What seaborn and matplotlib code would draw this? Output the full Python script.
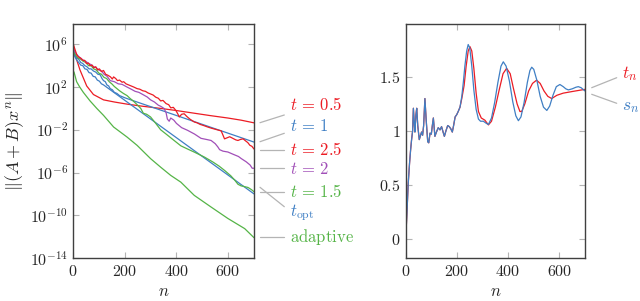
import numpy as np
import pandas as pd
import matplotlib
matplotlib.use('Agg')
import matplotlib.pyplot as plt
import seaborn as sns
from matplotlib.lines import Line2D
from matplotlib.ticker import NullLocator

# ---- left panel: log10 of ||(A+B)x^n|| ----
n_t05 = [0, 8, 27, 53, 79, 118, 160, 209, 270, 339, 400, 469, 530, 599, 650, 700]
e_t05 = [6.0, 5.0, 3.6, 2.1, 1.3, 0.8, 0.6, 0.4, 0.2, 0.0, -0.2, -0.45, -0.67, -0.9, -1.1, -1.35]

n_t25 = [0, 8, 15, 22, 30, 38, 45, 52, 60, 66, 74, 80, 88, 95, 102, 110, 118, 126, 135, 145, 152,
         157, 165, 172, 180, 190, 196, 205, 215, 225, 235, 248, 258, 270, 280, 290, 300, 310, 320,
         330, 339, 348, 360, 370, 378, 388, 398, 405, 411, 420, 430, 440, 452, 469, 480, 492, 505,
         521, 535, 550, 565, 573, 580, 586, 596, 606, 618, 630, 638, 648, 658, 668, 676, 684, 692, 700]
e_t25 = [6.1, 5.5, 5.0, 4.8, 4.7, 4.5, 4.5, 4.2, 4.25, 4.0, 4.05, 3.8, 3.9, 3.6, 3.7, 3.45, 3.55,
         3.2, 3.1, 2.95, 2.75, 2.95, 2.8, 2.6, 2.65, 2.45, 2.5, 2.3, 2.2, 2.1, 2.0, 1.85, 1.8, 1.65,
         1.6, 1.45, 1.35, 1.25, 1.05, 0.95, 0.7, 0.75, 0.45, 0.35, 0.05, 0.1, -0.2, -0.5, -0.8,
         -0.55, -0.5, -0.75, -1.0, -1.27, -1.35, -1.5, -1.6, -1.74, -1.85, -1.95, -2.05, -2.1,
         -2.5, -2.85, -2.75, -2.65, -2.8, -2.95, -3.0, -2.9, -2.85, -3.05, -3.2, -3.45, -3.55, -3.8]

n_t1 = [0, 8, 15, 22, 30, 38, 46, 54, 62, 70, 79, 88, 96, 105, 112, 118, 125, 131, 138, 144, 152,
        160, 170, 180, 190, 200, 209, 700]
e_t1 = [5.5, 5.0, 4.7, 4.6, 4.3, 4.2, 4.0, 3.9, 3.7, 3.7, 3.5, 3.4, 3.2, 3.15, 2.8, 2.6, 2.5, 2.2,
        2.1, 1.85, 1.75, 1.5, 1.4, 1.2, 1.1, 1.0, 0.92, -3.15]

n_t2 = [0, 10, 20, 30, 40, 50, 60, 70, 80, 90, 100, 110, 120, 132, 144, 160, 175, 190, 209, 225,
        240, 255, 270, 287, 300, 315, 330, 339, 352, 360, 365, 372, 378, 390, 400, 420, 443, 470,
        495, 515, 534, 550, 560, 567, 580, 599, 620, 640, 651, 670, 685, 693, 700]
e_t2 = [5.6, 5.2, 4.9, 4.7, 4.5, 4.4, 4.2, 4.1, 3.9, 3.8, 3.6, 3.5, 3.2, 3.0, 2.6, 2.5, 2.3, 2.25,
        2.0, 1.8, 1.6, 1.5, 1.3, 1.07, 0.8, 0.6, 0.3, 0.2, 0.0, -0.4, -1.0, -1.2, -0.9, -1.1, -1.4,
        -1.8, -2.05, -2.4, -2.8, -2.9, -3.0, -3.3, -3.6, -3.86, -4.0, -4.08, -4.3, -4.5, -4.7, -5.0,
        -5.3, -5.6, -5.6]

n_t15 = [0, 10, 20, 30, 40, 50, 60, 70, 80, 90, 100, 110, 120, 130, 140, 150, 160, 170, 180, 195,
         209, 220, 235, 250, 262, 272, 285, 300, 320, 339, 360, 391, 417, 443, 470, 508, 540, 565,
         586, 610, 625, 638, 650, 660, 677, 690, 700]
e_t15 = [5.4, 5.0, 4.7, 4.6, 4.4, 4.3, 4.0, 4.0, 3.7, 3.6, 3.3, 3.2, 2.9, 2.8, 2.5, 2.3, 2.05, 1.85,
         1.65, 1.4, 1.2, 0.95, 0.65, 0.3, 0.0, -0.45, -0.55, -0.8, -1.4, -2.0, -2.4, -3.0, -3.5,
         -3.8, -4.1, -4.55, -5.0, -5.4, -5.8, -6.3, -6.7, -7.1, -7.25, -7.3, -7.4, -7.6, -7.8]

n_topt = [0, 8, 15, 22, 30, 38, 46, 54, 62, 70, 78, 86, 94, 102, 110, 118, 700]
e_topt = [5.3, 4.8, 4.5, 4.3, 4.05, 4.0, 3.7, 3.65, 3.35, 3.3, 3.0, 2.95, 2.65, 2.55, 2.3, 2.2, -8.0]

n_adapt = [0, 4, 14, 26, 40, 66, 92, 118, 157, 209, 248, 300, 339, 378, 417, 469, 534, 599, 664, 700]
e_adapt = [3.5, 3.4, 2.5, 2.0, 1.5, 0.7, 0.0, -0.65, -1.74, -2.68, -3.46, -4.7, -5.5, -6.27, -6.9,
           -8.14, -9.23, -10.3, -11.25, -12.1]

# ---- right panel: t_n and s_n ----
n_early = [0, 5, 10, 15, 19, 23, 27, 30, 34, 36, 40, 43, 47, 53, 58, 62, 66, 70, 75, 80, 86, 90, 95,
           100, 104, 108, 114, 120, 127, 134, 140, 146, 151, 157, 164, 170, 176, 182, 187, 193, 199]
v_early = [0, 0.25, 0.52, 0.7, 0.82, 0.92, 1.0, 1.21, 1.05, 0.99, 1.15, 1.21, 1.05, 0.92, 0.96, 0.99,
           0.96, 1.05, 1.30, 1.1, 0.90, 0.89, 0.98, 0.97, 1.05, 1.12, 0.95, 0.99, 1.03, 1.01, 1.04,
           0.99, 0.95, 1.0, 1.05, 1.04, 1.02, 0.99, 1.05, 1.13, 1.15]
n_s = [205, 212, 219, 225, 231, 238, 244, 250, 258, 266, 275, 284, 292, 303, 315, 323, 335, 347, 360,
       372, 381, 392, 405, 418, 430, 440, 450, 462, 475, 485, 492, 500, 512, 525, 538, 551, 562, 575,
       588, 602, 615, 625, 635, 650, 665, 674, 685, 700]
v_s = [1.18, 1.22, 1.32, 1.45, 1.6, 1.74, 1.80, 1.77, 1.6, 1.38, 1.2, 1.11, 1.09, 1.09, 1.07, 1.06,
       1.12, 1.26, 1.45, 1.6, 1.64, 1.6, 1.46, 1.27, 1.14, 1.095, 1.13, 1.26, 1.45, 1.56, 1.59, 1.57,
       1.47, 1.32, 1.22, 1.19, 1.23, 1.33, 1.41, 1.43, 1.41, 1.39, 1.38, 1.39, 1.405, 1.41, 1.40, 1.37]
n_t = [205, 212, 219, 228, 236, 244, 251, 258, 266, 275, 284, 295, 309, 323, 335, 350, 365, 380, 394,
       408, 420, 435, 446, 453, 465, 480, 495, 511, 525, 540, 555, 570, 590, 615, 650, 700]
v_t = [1.18, 1.22, 1.3, 1.42, 1.6, 1.74, 1.78, 1.74, 1.58, 1.35, 1.18, 1.12, 1.10, 1.056, 1.09, 1.22,
       1.38, 1.53, 1.58, 1.53, 1.4, 1.25, 1.18, 1.18, 1.25, 1.37, 1.44, 1.47, 1.44, 1.37, 1.32, 1.30,
       1.33, 1.35, 1.365, 1.385]

RED = '#ec1c24'
BLUE = '#3f7fc4'
GREEN = '#55b447'
PURPLE = '#a14fb8'
GRAY = '#b4b4b4'

sns.set_style('white')
plt.rcParams['mathtext.fontset'] = 'cm'
plt.rcParams['font.family'] = ['DejaVu Serif']

fig = plt.figure(figsize=(6.4, 3.01), dpi=100)
W, H = 640, 301


def fx(px):
    return px / W


def fy(py):
    return 1 - py / H


ax1 = fig.add_axes([fx(73), fy(258), fx(254) - fx(73), fy(24) - fy(258)])
ax2 = fig.add_axes([fx(405.7), fy(258), fx(585) - fx(405.7), fy(24) - fy(258)])

# left panel
left_series = [
    (n_t05, e_t05, RED),
    (n_t1, e_t1, BLUE),
    (n_topt, e_topt, BLUE),
    (n_t15, e_t15, GREEN),
    (n_t2, e_t2, PURPLE),
    (n_t25, e_t25, RED),
    (n_adapt, e_adapt, GREEN),
]
for nn, ee, col in left_series:
    sns.lineplot(x=nn, y=10.0 ** np.array(ee), ax=ax1, color=col, lw=0.9, estimator=None, sort=False)
ax1.set_yscale('log')
ax1.set_xlim(0, 700)
ax1.set_ylim(10 ** -14, 10 ** 7.9)
ax1.set_yticks([1e6, 1e2, 1e-2, 1e-6, 1e-10, 1e-14])
ax1.set_yticklabels([r'$10^{6}$', r'$10^{2}$', r'$10^{-2}$', r'$10^{-6}$', r'$10^{-10}$', r'$10^{-14}$'])
ax1.yaxis.set_minor_locator(NullLocator())
ax1.set_xticks([0, 200, 400, 600])
ax1.set_xticklabels([r'$0$', r'$200$', r'$400$', r'$600$'])
ax1.set_ylabel(r'$\Vert(A+B)x^n\Vert$', fontsize=13, labelpad=3)

# right panel
df_s = pd.DataFrame({'n': n_early + n_s, 'v': v_early + v_s})
df_t = pd.DataFrame({'n': n_early + n_t, 'v': v_early + v_t})
sns.lineplot(data=df_t, x='n', y='v', ax=ax2, color=RED, lw=0.9, estimator=None, sort=False)
sns.lineplot(data=df_s, x='n', y='v', ax=ax2, color=BLUE, lw=0.9, estimator=None, sort=False)
ax2.set_xlim(0, 700)
ax2.set_ylim(-0.176, 1.99)
ax2.set_yticks([0, 0.5, 1, 1.5])
ax2.set_yticklabels([r'$0$', r'$0.5$', r'$1$', r'$1.5$'])
ax2.set_xticks([0, 200, 400, 600])
ax2.set_xticklabels([r'$0$', r'$200$', r'$400$', r'$600$'])
ax2.set_ylabel('')

for ax in (ax1, ax2):
    ax.set_xlabel(r'$n$', fontsize=12, labelpad=2)
    for sp in ax.spines.values():
        sp.set_color('#404040')
        sp.set_linewidth(1.0)
    ax.tick_params(which='major', direction='in', length=4.5, width=0.8, color=GRAY,
                   top=True, right=True, bottom=True, left=True, labelsize=11.5, pad=3.5)

# labels to the right of the left panel, with grey leaders
left_labels = [
    (r'$t\,=\,0.5$', RED, 122.7, 115, 106),
    (r'$t\,=\,1$', BLUE, 141.7, 133.3, 126),
    (r'$t\,=\,2.5$', RED, 150, 150, 150.7),
    (r'$t\,=\,2$', PURPLE, 168.3, 168.3, 169),
    (r'$t\,=\,1.5$', GREEN, 191.7, 191.7, 192.3),
    (r'$t_{\mathrm{opt}}$', BLUE, 187.3, 206.7, 213),
    (r'$\mathrm{adaptive}$', GREEN, 237.3, 237.3, 237.3),
]
for txt, col, y0, y1, yt in left_labels:
    fig.add_artist(Line2D([fx(260), fx(284.3)], [fy(y0), fy(y1)], transform=fig.transFigure,
                          color=GRAY, lw=0.9))
    fig.text(fx(290.5), fy(yt), txt, color=col, fontsize=12, ha='left', va='center')

right_labels = [
    (r'$t_n$', RED, 87.7, 77.7, 74),
    (r'$s_n$', BLUE, 94.3, 103.3, 107),
]
for txt, col, y0, y1, yt in right_labels:
    fig.add_artist(Line2D([fx(591.7), fx(616.7)], [fy(y0), fy(y1)], transform=fig.transFigure,
                          color=GRAY, lw=0.9))
    fig.text(fx(621.5), fy(yt), txt, color=col, fontsize=12.5, ha='left', va='center')

fig.savefig('out.png', dpi=100)
